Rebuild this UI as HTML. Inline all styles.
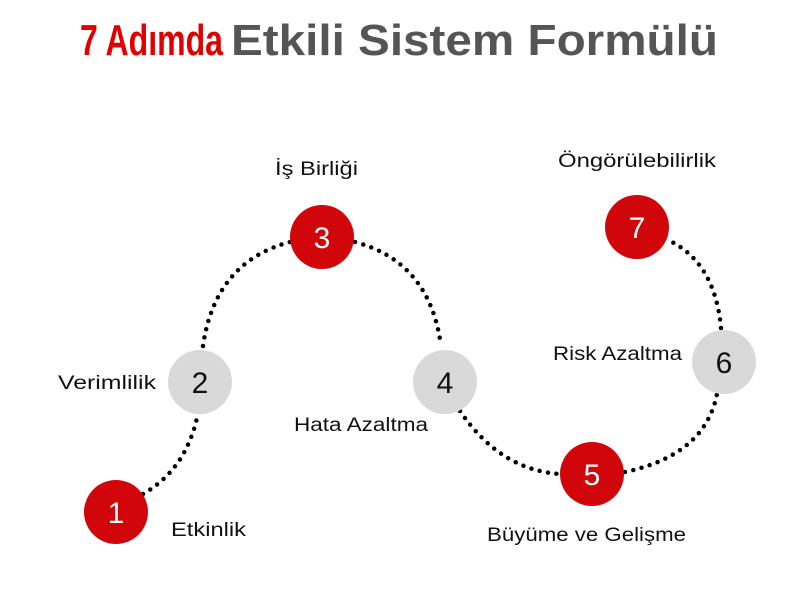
<!DOCTYPE html>
<html><head><meta charset="utf-8"><style>
html,body{margin:0;padding:0;background:#fff;}
svg{display:block;}
text{font-family:"Liberation Sans",sans-serif;}
</style></head><body>
<svg width="800" height="609" viewBox="0 0 800 609" xmlns="http://www.w3.org/2000/svg">
<text x="80" y="55" font-size="44" font-weight="bold" fill="#e00000" textLength="143" lengthAdjust="spacingAndGlyphs">7 Adımda</text>
<text x="231" y="55" font-size="44" font-weight="bold" fill="#555555" textLength="487" lengthAdjust="spacingAndGlyphs">Etkili Sistem Formülü</text>
<g fill="none" stroke="#000" stroke-width="4.5" stroke-linecap="round" stroke-dasharray="0 8.5">
<path d="M143,494 Q185,470 197,418"/>
<path d="M203,346 Q215,262 290,242"/>
<path d="M355,242 Q430,262 441,346"/>
<path d="M460,411 Q500,470 560,474"/>
<path d="M625,472 Q705,455 717,394"/>
<path d="M721,328 Q715,262 668,240"/>
</g>
<circle cx="116" cy="512" r="32" fill="#d0060a"/>
<circle cx="200" cy="382" r="32" fill="#d9d9d9"/>
<circle cx="322" cy="237" r="32" fill="#d0060a"/>
<circle cx="445" cy="382" r="32" fill="#d9d9d9"/>
<circle cx="592" cy="474" r="32" fill="#d0060a"/>
<circle cx="724" cy="362" r="32" fill="#d9d9d9"/>
<circle cx="637" cy="227" r="32" fill="#d0060a"/>
<g font-size="30" text-anchor="middle">
<text x="116" y="523" fill="#fff">1</text>
<text x="200" y="393" fill="#111">2</text>
<text x="322" y="248" fill="#fff">3</text>
<text x="445" y="393" fill="#111">4</text>
<text x="592" y="485" fill="#fff">5</text>
<text x="724" y="373" fill="#111">6</text>
<text x="637" y="238" fill="#fff">7</text>
</g>
<g font-size="19" fill="#111">
<text x="171" y="536" textLength="75" lengthAdjust="spacingAndGlyphs">Etkinlik</text>
<text x="58" y="389" textLength="98" lengthAdjust="spacingAndGlyphs">Verimlilik</text>
<text x="275" y="175" textLength="83" lengthAdjust="spacingAndGlyphs">İş Birliği</text>
<text x="294" y="431" textLength="134" lengthAdjust="spacingAndGlyphs">Hata Azaltma</text>
<text x="487" y="541" textLength="199" lengthAdjust="spacingAndGlyphs">Büyüme ve Gelişme</text>
<text x="553" y="360" textLength="129" lengthAdjust="spacingAndGlyphs">Risk Azaltma</text>
<text x="558" y="167" textLength="158" lengthAdjust="spacingAndGlyphs">Öngörülebilirlik</text>
</g>
</svg>
</body></html>
